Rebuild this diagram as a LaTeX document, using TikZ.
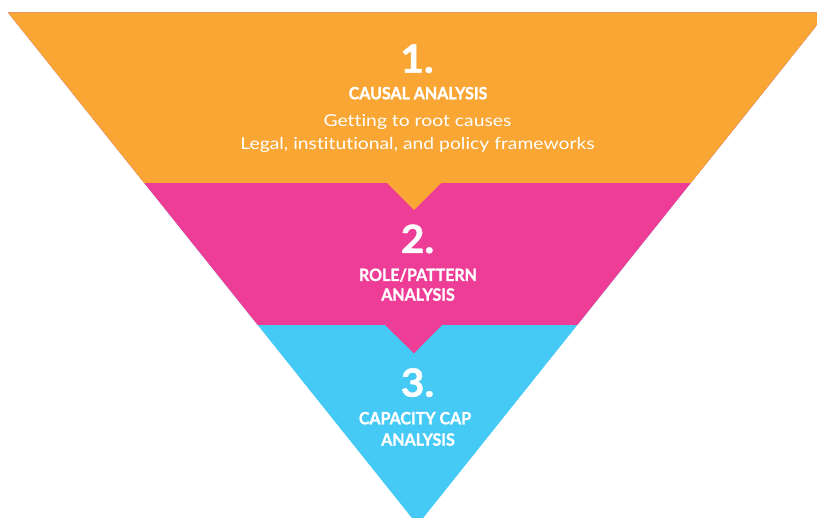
\documentclass[tikz,border=0pt]{standalone}
\usepackage{fontspec}
\setmainfont{Lato}
\newfontfamily\bodyfont[FakeStretch=1.17,Ligatures=NoCommon]{Lato}
\newfontfamily\headfont[FakeStretch=0.94,FakeBold=1.2]{Lato Bold}
\newfontfamily\numfont[FakeStretch=1.05,FakeBold=1.2]{Lato Bold}
\definecolor{bandorange}{RGB}{249,166,52}
\definecolor{bandpink}{RGB}{238,61,150}
\definecolor{bandblue}{RGB}{69,201,245}
\tikzset{
  numtxt/.style={anchor=base, text=white, inner sep=0pt, font=\numfont\fontsize{39}{39}\selectfont},
  headtxt/.style={anchor=base, text=white, inner sep=0pt, font=\headfont\fontsize{17}{17}\selectfont},
  bodytxt/.style={anchor=base, text=white, inner sep=0pt, font=\bodyfont\fontsize{16.5}{16.5}\selectfont}
}
\begin{document}
\begin{tikzpicture}[x=1pt,y=-1pt]
\useasboundingbox (0,0) rectangle (817,518);
\fill[white] (0,0) rectangle (817,518);
\begin{scope}
  \clip (8,12.5) -- (827,12.5) -- (417.5,525) -- cycle;
  \fill[bandblue] (0,0) rectangle (830,530);
  \fill[bandpink] (0,0) rectangle (830,325.5);
  \fill[bandpink] (385,325) -- (414,353.3) -- (442,325) -- cycle;
  \fill[bandorange] (0,0) rectangle (830,183);
  \fill[bandorange] (386.5,182.5) -- (414,210) -- (441.5,182.5) -- cycle;
\end{scope}
\node[numtxt] (n1) at (417,72.7) {1.};
\node[headtxt] (h1) at (418,99.3) {CAUSAL ANALYSIS};
\node[bodytxt] (b1) at (417.5,126.7) {Getting to root causes};
\node[bodytxt] (b2) at (417.5,149.3) {Legal, institutional, and policy frameworks};
\node[numtxt] (n2) at (417.5,253) {2.};
\node[headtxt] (h2) at (418,281) {ROLE/PATTERN};
\node[headtxt] (h3) at (418,300.7) {ANALYSIS};
\node[numtxt] (n3) at (417.5,396.7) {3.};
\node[headtxt] (h4) at (415,424.3) {CAPACITY CAP};
\node[headtxt] (h5) at (418,445.7) {ANALYSIS};
\end{tikzpicture}
\end{document}
